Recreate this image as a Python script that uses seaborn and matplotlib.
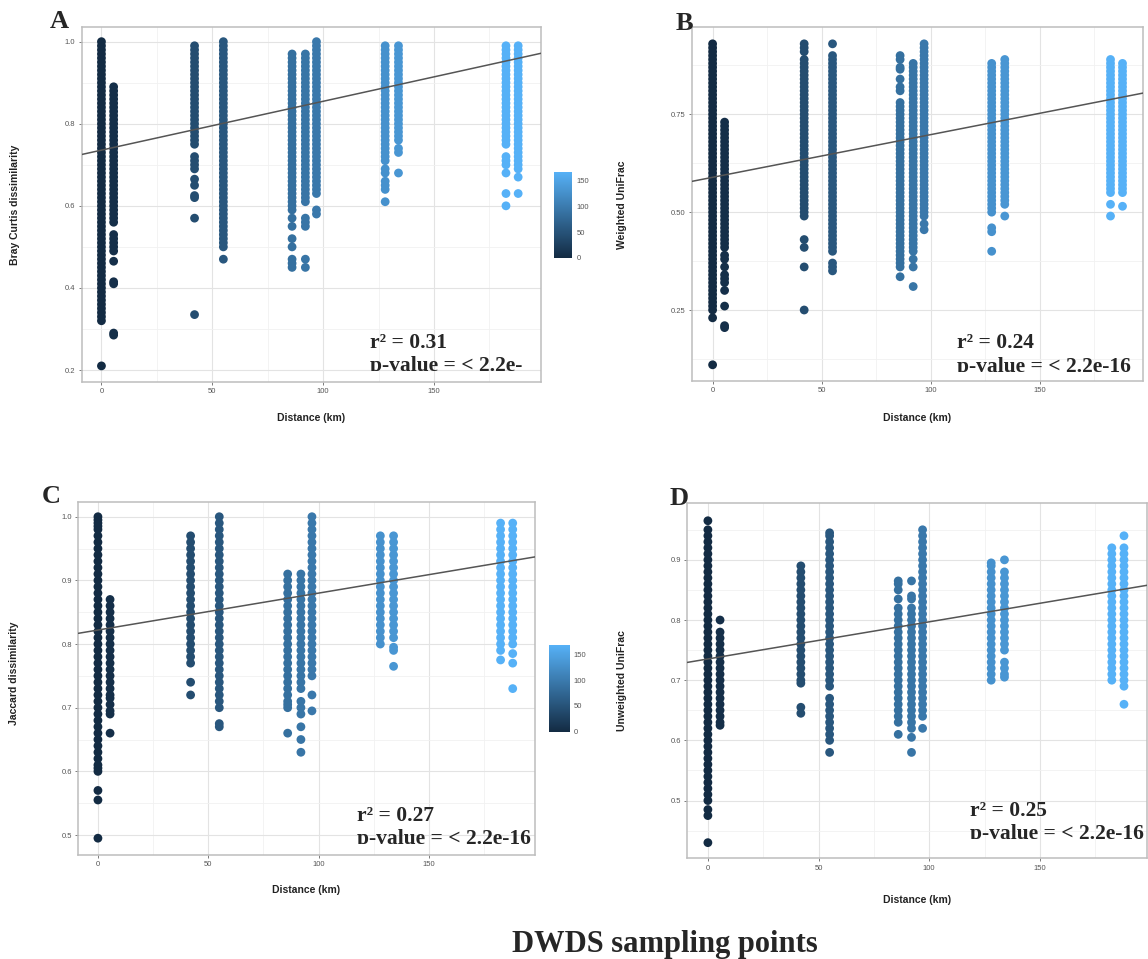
import numpy as np
import pandas as pd
import matplotlib
matplotlib.use("Agg")
import matplotlib.pyplot as plt
from matplotlib.colors import LinearSegmentedColormap, Normalize
from matplotlib.cm import ScalarMappable
from matplotlib.patches import Rectangle
from matplotlib.ticker import MultipleLocator, FixedLocator
import seaborn as sns

sns.set_theme(style="white")
plt.rcParams['font.family'] = ['Liberation Sans', 'DejaVu Sans']

# ---------------- data ----------------
# distance (km) of each sampling-pair column, and its colour value
DIST = [0, 5.5, 42, 55, 86, 92, 97, 128, 134, 182.5, 188]
CVAL = [0, 5.5, 42, 55, 86, 92, 97, 128, 134, 168, 168]
CBAR_MAX = 168
CBAR_TICKS = [0, 50, 100, 150]

# dissimilarity values (x100) read per column
A_vals = [
    [100, 99, 98, 97, 96, 95, 94, 93, 92, 91, 90, 89, 88, 87, 86, 85, 84, 83, 82, 81, 80, 79, 78, 77, 76, 75, 74, 73, 72, 71, 70, 69, 68, 67, 66, 65, 64, 63, 62, 61, 60, 59, 58, 57, 56, 55, 54, 53, 52, 51, 50, 49, 48, 47, 46, 45, 44, 43, 42, 41, 40, 39, 38, 37, 36, 35, 34, 33, 32, 21],
    [89, 88, 87, 86, 85, 84, 83, 82, 81, 80, 79, 78, 77, 76, 75, 74, 73, 72, 71, 70, 69, 68, 67, 66, 65, 64, 63, 62, 61, 60, 59, 58, 57, 56, 53, 52, 51, 50, 49, 46.5, 41.5, 41, 29, 28.5],
    [99, 98, 97, 96, 95, 94, 93, 92, 91, 90, 89, 88, 87, 86, 85, 84, 83, 82, 81, 80, 79, 78, 77, 76, 75, 72, 71, 70, 69, 66.5, 65, 62.5, 62, 57, 33.5],
    [100, 99, 98, 97, 96, 95, 94, 93, 92, 91, 90, 89, 88, 87, 86, 85, 84, 83, 82, 81, 80, 79, 78, 77, 76, 75, 74, 73, 72, 71, 70, 69, 68, 67, 66, 65, 64, 63, 62, 61, 60, 59, 58, 57, 56, 55, 54, 53, 52, 51, 50, 47],
    [97, 96, 95, 94, 93, 92, 91, 90, 89, 88, 87, 86, 85, 84, 83, 82, 81, 80, 79, 78, 77, 76, 75, 74, 73, 72, 71, 70, 69, 68, 67, 66, 65, 64, 63, 62, 61, 60, 59, 57, 55, 52, 50, 47, 46, 45],
    [97, 96, 95, 94, 93, 92, 91, 90, 89, 88, 87, 86, 85, 84, 83, 82, 81, 80, 79, 78, 77, 76, 75, 74, 73, 72, 71, 70, 69, 68, 67, 66, 65, 64, 63, 62, 61, 57, 56, 55, 47, 45],
    [100, 99, 98, 97, 96, 95, 94, 93, 92, 91, 90, 89, 88, 87, 86, 85, 84, 83, 82, 81, 80, 79, 78, 77, 76, 75, 74, 73, 72, 71, 70, 69, 68, 67, 66, 65, 64, 63, 59, 58],
    [99, 98, 97, 96, 95, 94, 93, 92, 91, 90, 89, 88, 87, 86, 85, 84, 83, 82, 81, 80, 79, 78, 77, 76, 75, 74, 73, 72, 71, 69, 68, 66, 65, 64, 61],
    [99, 98, 97, 96, 95, 94, 93, 92, 91, 90, 89, 88, 87, 86, 85, 84, 83, 82, 81, 80, 79, 78, 77, 76, 74, 73, 68],
    [99, 98, 97, 96, 95, 94, 93, 92, 91, 90, 89, 88, 87, 86, 85, 84, 83, 82, 81, 80, 79, 78, 77, 76, 75, 72, 71, 70, 68, 63, 60],
    [99, 98, 97, 96, 95, 94, 93, 92, 91, 90, 89, 88, 87, 86, 85, 84, 83, 82, 81, 80, 79, 78, 77, 76, 75, 74, 73, 72, 71, 70, 69, 67, 63],
]
B_vals = [
    [93, 92, 91, 90, 89, 88, 87, 86, 85, 84, 83, 82, 81, 80, 79, 78, 77, 76, 75, 74, 73, 72, 71, 70, 69, 68, 67, 66, 65, 64, 63, 62, 61, 60, 59, 58, 57, 56, 55, 54, 53, 52, 51, 50, 49, 48, 47, 46, 45, 44, 43, 42, 41, 40, 39, 38, 37, 36, 35, 34, 33, 32, 31, 30, 29, 28, 27, 26, 25, 23, 11],
    [73, 72, 71, 70, 69, 68, 67, 66, 65, 64, 63, 62, 61, 60, 59, 58, 57, 56, 55, 54, 53, 52, 51, 50, 49, 48, 47, 46, 45, 44, 43, 42, 41, 39, 38, 36, 34, 33, 32, 30, 26, 21, 20.5],
    [93, 92, 91, 89, 88, 87, 86, 85, 84, 83, 82, 81, 80, 79, 78, 77, 76, 75, 74, 73, 72, 71, 70, 69, 68, 67, 66, 65, 64, 63, 62, 61, 60, 59, 58, 57, 56, 55, 54, 53, 52, 51, 50, 49, 43, 41, 36, 25],
    [93, 90, 89, 88, 87, 86, 85, 84, 83, 82, 81, 80, 79, 78, 77, 76, 75, 74, 73, 72, 71, 70, 69, 68, 67, 66, 65, 64, 63, 62, 61, 60, 59, 58, 57, 56, 55, 54, 53, 52, 51, 50, 49, 48, 47, 46, 45, 44, 43, 42, 41, 40, 37, 36, 35],
    [90, 89, 87, 86.5, 84, 82, 81, 78, 77, 76, 75, 74, 73, 72, 71, 70, 69, 68, 67, 66, 65, 64, 63, 62, 61, 60, 59, 58, 57, 56, 55, 54, 53, 52, 51, 50, 49, 48, 47, 46, 45, 44, 43, 42, 41, 40, 39, 38, 37, 36, 33.5],
    [88, 87, 86, 85, 84, 83, 82, 81, 80, 79, 78, 77, 76, 75, 74, 73, 72, 71, 70, 69, 68, 67, 66, 65, 64, 63, 62, 61, 60, 59, 58, 57, 56, 55, 54, 53, 52, 51, 50, 49, 48, 47, 46, 45, 44, 43, 42, 41, 40, 38, 36, 31],
    [93, 92, 91, 90, 89, 88, 87, 86, 85, 84, 83, 82, 81, 80, 79, 78, 77, 76, 75, 74, 73, 72, 71, 70, 69, 68, 67, 66, 65, 64, 63, 62, 61, 60, 59, 58, 57, 56, 55, 54, 53, 52, 51, 50, 49, 47, 45.5],
    [88, 87, 86, 85, 84, 83, 82, 81, 80, 79, 78, 77, 76, 75, 74, 73, 72, 71, 70, 69, 68, 67, 66, 65, 64, 63, 62, 61, 60, 59, 58, 57, 56, 55, 54, 53, 52, 51, 50, 46, 45, 40],
    [89, 88, 87, 86, 85, 84, 83, 82, 81, 80, 79, 78, 77, 76, 75, 74, 73, 72, 71, 70, 69, 68, 67, 66, 65, 64, 63, 62, 61, 60, 59, 58, 57, 56, 55, 54, 53, 52, 49],
    [89, 88, 87, 86, 85, 84, 83, 82, 81, 80, 79, 78, 77, 76, 75, 74, 73, 72, 71, 70, 69, 68, 67, 66, 65, 64, 63, 62, 61, 60, 59, 58, 57, 56, 55, 52, 49],
    [88, 87, 86, 85, 84, 83, 82, 81, 80, 79, 78, 77, 76, 75, 74, 73, 72, 71, 70, 69, 68, 67, 66, 65, 64, 63, 62, 61, 60, 59, 58, 57, 56, 55, 51.5],
]
C_vals = [
    [100, 99.5, 99, 98.5, 98, 97, 96, 95, 94, 93, 92, 91, 90, 89, 88, 87, 86, 85, 84, 83, 82, 81, 80, 79, 78, 77, 76, 75, 74, 73, 72, 71, 70, 69, 68, 67, 66, 65, 64, 63, 62, 61, 60.5, 60, 57, 55.5, 49.5],
    [87, 86, 85, 84, 83, 82, 81, 80, 79, 78, 77, 76, 75, 74, 73, 72, 71.5, 70.5, 69.5, 69, 66],
    [97, 96, 95, 94, 93, 92, 91, 90, 89, 88, 87, 86, 85, 84, 83, 82, 81, 80, 79, 78, 77, 74, 72],
    [100, 99, 98, 97, 96, 95, 94, 93, 92, 91, 90, 89, 88, 87, 86, 85, 84, 83, 82, 81, 80, 79, 78, 77, 76, 75, 74, 73, 72, 71, 70, 67.5, 67],
    [91, 90, 89, 88, 87, 86, 85, 84, 83, 82, 81, 80, 79, 78, 77, 76, 75, 74, 73, 72, 71, 70.5, 70, 66],
    [91, 90, 89, 88, 87, 86, 85, 84, 83, 82, 81, 80, 79, 78, 77, 76, 75, 74, 73, 71, 70, 69, 67, 65, 63],
    [100, 99, 98, 97, 96, 95, 94, 93, 92, 91, 90, 89, 88, 87, 86, 85, 84, 83, 82, 81, 80, 79, 78, 77, 76, 75, 72, 69.5],
    [97, 96, 95, 94, 93, 92, 91, 90, 89, 88, 87, 86, 85, 84, 83, 82, 81, 80],
    [97, 96, 95, 94, 93, 92, 91, 90, 89, 88, 87, 86, 85, 84, 83, 82, 81, 79.5, 79, 76.5],
    [99, 98, 97, 96, 95, 94, 93, 92, 91, 90, 89, 88, 87, 86, 85, 84, 83, 82, 81, 80, 79, 77.5],
    [99, 98, 97, 96, 95, 94, 93, 92, 91, 90, 89, 88, 87, 86, 85, 84, 83, 82, 81, 80, 78.5, 77, 73],
]
D_vals = [
    [96.5, 95, 94, 93, 92, 91, 90, 89, 88, 87, 86, 85, 84, 83, 82, 81, 80, 79, 78, 77, 76, 75, 74, 73, 72, 71, 70, 69, 68, 67, 66, 65, 64, 63, 62, 61, 60, 59, 58, 57, 56, 55, 54, 53, 52, 51, 50, 48.5, 47.5, 43],
    [80, 78, 77, 76, 75, 74, 73, 72, 71, 70, 69, 68, 67, 66, 65, 64, 63, 62.5],
    [89, 88, 87, 86, 85, 84, 83, 82, 81, 80, 79, 78, 77, 76, 75, 74, 73, 72, 71, 70, 69.5, 65.5, 64.5],
    [94.5, 94, 93, 92, 91, 90, 89, 88, 87, 86, 85, 84, 83, 82, 81, 80, 79, 78, 77, 76, 75, 74, 73, 72, 71, 70, 69, 67, 66, 65, 64, 63, 62, 61, 60, 58],
    [86.5, 86, 85, 83.5, 82, 81, 80, 79, 78, 77, 76, 75, 74, 73, 72, 71, 70, 69, 68, 67, 66, 65, 64, 63, 61],
    [86.5, 84, 83.5, 82, 81, 80, 79, 78, 77, 76, 75, 74, 73, 72, 71, 70, 69, 68, 67, 66, 65, 64, 63, 62, 60.5, 58],
    [95, 94, 93, 92, 91, 90, 89, 88, 87, 86, 85, 84, 83, 82, 81, 80, 79, 78, 77, 76, 75, 74, 73, 72, 71, 70, 69, 68, 67, 66, 65, 64, 62],
    [89.5, 89, 88, 87, 86, 85, 84, 83, 82, 81, 80, 79, 78, 77, 76, 75, 74, 73, 72, 71, 70],
    [90, 88, 87, 86, 85, 84, 83, 82, 81, 80, 79, 78, 77, 76, 75, 73, 72, 71, 70.5],
    [92, 91, 90, 89, 88, 87, 86, 85, 84, 83, 82, 81, 80, 79, 78, 77, 76, 75, 74, 73, 72, 71, 70],
    [94, 92, 91, 90, 89, 88, 87, 86, 85, 84, 83, 82, 81, 80, 79, 78, 77, 76, 75, 74, 73, 72, 71, 70, 69, 66],
]

# linear fits (intercept, slope per km)
A_fit = (0.7357, 0.00119)
B_fit = (0.589, 0.00109)
C_fit = (0.822, 0.00058)
D_fit = (0.7353, 0.000617)

A_stats = ["r\u00b2 = 0.31", "p-value = < 2.2e-"]
B_stats = ["r\u00b2 = 0.24", "p-value = < 2.2e-16"]
C_stats = ["r\u00b2 = 0.27", "p-value = < 2.2e-16"]
D_stats = ["r\u00b2 = 0.25", "p-value = < 2.2e-16"]

A_yticks = [0.2, 0.4, 0.6, 0.8, 1.0]
B_yticks = [0.25, 0.50, 0.75]
C_yticks = [0.5, 0.6, 0.7, 0.8, 0.9, 1.0]
D_yticks = [0.5, 0.6, 0.7, 0.8, 0.9]
A_ylabels = ["0.2", "0.4", "0.6", "0.8", "1.0"]
B_ylabels = ["0.25", "0.50", "0.75"]
C_ylabels = ["0.5", "0.6", "0.7", "0.8", "0.9", "1.0"]
D_ylabels = ["0.5", "0.6", "0.7", "0.8", "0.9"]
XTICKS = [0, 50, 100, 150]

Y_TITLES = ["Bray Curtis dissimilarity", "Weighted UniFrac",
            "Jaccard dissimilarity", "Unweighted UniFrac"]
X_TITLE = "Distance (km)"
LETTERS = ["A", "B", "C", "D"]
SUPTITLE = "DWDS sampling points"

# ---------------- figure ----------------
W, H = 1148, 959
fig = plt.figure(figsize=(W / 100, H / 100), dpi=100)


def rect(l, t, r, b):
    return [l / W, 1 - b / H, (r - l) / W, (b - t) / H]


cmap = LinearSegmentedColormap.from_list("gg", ["#132B43", "#56B1F7"])
norm = Normalize(0, CBAR_MAX)

panels = [
    dict(vals=A_vals, fit=A_fit, stats=A_stats, yt=A_yticks, yl=A_ylabels, ymin=0.1,
         box=(81.5, 27.3, 541, 381.7), ylim=(0.1715, 1.035), xlim=(-9.0, 198.3),
         letter=(50, 28), ytitle=(15, 205), xtitle=(311, 418),
         sx=0.627, sb=(0.095, 0.030)),
    dict(vals=B_vals, fit=B_fit, stats=B_stats, yt=B_yticks, yl=B_ylabels, ymin=0.125,
         box=(692, 27, 1143, 380.7), ylim=(0.0694, 0.973), xlim=(-9.45, 197.4),
         letter=(676, 30), ytitle=(622, 205), xtitle=(917, 418),
         sx=0.588, sb=(0.092, 0.025)),
    dict(vals=C_vals, fit=C_fit, stats=C_stats, yt=C_yticks, yl=C_ylabels, ymin=0.05,
         box=(78.3, 501.7, 535, 855), ylim=(0.4686, 1.0236), xlim=(-8.9, 198.1),
         letter=(42, 503), ytitle=(14, 673), xtitle=(306, 890),
         sx=0.61, sb=(0.097, 0.031)),
    dict(vals=D_vals, fit=D_fit, stats=D_stats, yt=D_yticks, yl=D_ylabels, ymin=0.05,
         box=(687.3, 503.3, 1147, 858.3), ylim=(0.404, 0.994), xlim=(-9.3, 198.4),
         letter=(670, 505), ytitle=(621.6, 681), xtitle=(917, 900),
         sx=0.614, sb=(0.12, 0.055)),
]

for i, p in enumerate(panels):
    ax = fig.add_axes(rect(*p["box"]))
    rows = []
    for d, c, col in zip(DIST, CVAL, p["vals"]):
        for v in col:
            rows.append((d, c, v / 100.0))
    df = pd.DataFrame(rows, columns=["dist", "cval", "val"])
    sns.scatterplot(data=df, x="dist", y="val", hue="cval", palette=cmap,
                    hue_norm=norm, s=40, linewidth=0, legend=False, ax=ax,
                    zorder=3)
    a, b = p["fit"]
    ax.axline((0, a), slope=b, color="#555555", lw=1.1, zorder=4)
    ax.set_xlim(*p["xlim"])
    ax.set_ylim(*p["ylim"])
    ax.xaxis.set_major_locator(FixedLocator(XTICKS))
    ax.xaxis.set_minor_locator(MultipleLocator(25))
    ax.set_yticks(p["yt"])
    ax.set_yticklabels(p["yl"])
    ax.yaxis.set_minor_locator(MultipleLocator(p["ymin"]))
    ax.set_xlabel("")
    ax.set_ylabel("")
    ax.tick_params(which="major", labelsize=5.5, labelcolor="#555555",
                   color="#666666", length=2.5, width=0.6, pad=2,
                   bottom=True, left=True)
    ax.tick_params(which="minor", length=0)
    ax.grid(which="major", color="#e3e3e3", lw=0.8)
    ax.grid(which="minor", color="#f1f1f1", lw=0.6)
    ax.set_axisbelow(True)
    for sp in ax.spines.values():
        sp.set_color("#bdbdbd")
        sp.set_linewidth(1.1)

    # statistics text (second line cut at its baseline, as in the source)
    ax.text(p["sx"], p["sb"][0], p["stats"][0], transform=ax.transAxes,
            fontsize=15.5, fontweight="bold", family="Liberation Serif",
            va="baseline", ha="left", zorder=6)
    t2 = ax.text(p["sx"], p["sb"][1], p["stats"][1], transform=ax.transAxes,
                 fontsize=15.5, fontweight="bold", family="Liberation Serif",
                 va="baseline", ha="left", zorder=6, clip_on=True)
    clip = Rectangle((0, p["sb"][1]), 1, 1 - p["sb"][1], transform=ax.transAxes)
    t2.set_clip_path(clip)

    lx, ly = p["letter"]
    fig.text(lx / W, 1 - ly / H, LETTERS[i], fontsize=19, fontweight="bold",
             family="Liberation Serif", va="baseline", ha="left")
    tx, ty = p["ytitle"]
    fig.text(tx / W, 1 - ty / H, Y_TITLES[i], rotation=90, fontsize=7.5,
             fontweight="bold", color="#222222", ha="center", va="center")
    xx, xy = p["xtitle"]
    fig.text(xx / W, 1 - xy / H, X_TITLE, fontsize=7.5, fontweight="bold",
             color="#222222", ha="center", va="center")

# colour bars (placed to the right of panels A and C)
for box in [(554, 171.7, 572.3, 257.7), (549.4, 645, 569.7, 731.7)]:
    cax = fig.add_axes(rect(*box))
    sm = ScalarMappable(norm=norm, cmap=cmap)
    cb = fig.colorbar(sm, cax=cax, ticks=CBAR_TICKS)
    cb.outline.set_visible(False)
    cax.tick_params(left=True, right=True, labelleft=False, labelright=True,
                    direction="in", color="white", length=3, width=0.6,
                    labelsize=5.5, labelcolor="#555555", pad=3)

fig.text(665 / W, 1 - 952 / H, SUPTITLE, fontsize=22, fontweight="bold",
         family="Liberation Serif", ha="center", va="baseline")

fig.savefig("out.png", dpi=100)
